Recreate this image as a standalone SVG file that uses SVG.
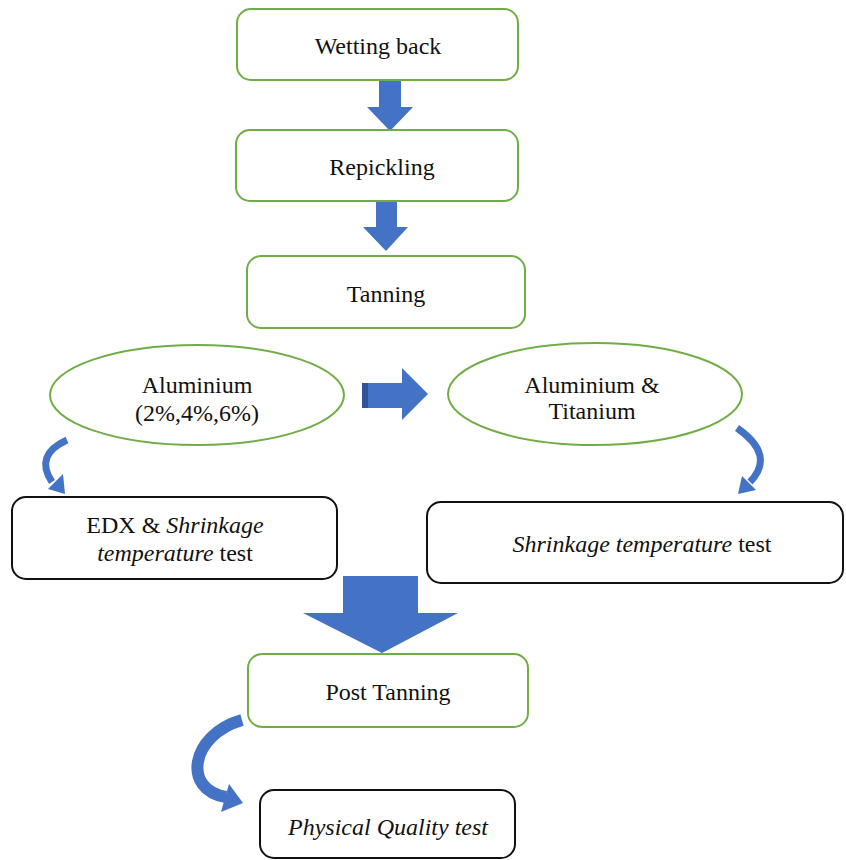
<svg xmlns="http://www.w3.org/2000/svg" width="846" height="860" viewBox="0 0 846 860">
<defs>
<style>
.g{fill:#fff;stroke:#70AD47;stroke-width:2}
.k{fill:#fff;stroke:#111;stroke-width:2}
.t{font-family:'Liberation Serif','Times New Roman','DejaVu Serif',serif;font-size:24px;fill:#111;text-anchor:middle}
.i{font-style:italic}
.a{fill:#4472C4}
.c{fill:none;stroke:#4472C4}
</style>
</defs>
<rect width="846" height="860" fill="#fff"/>
<g id="connectors">
<polygon class="a" points="379,81 401,81 401,107 413,107 390,131 367,107 379,107"/>
<polygon class="a" points="376,202 397,202 397,227 408,227 386,251 363,227 376,227"/>
<polygon class="a" points="362,383 402,383 402,368 428,394 402,420 402,408 362,408"/>
<rect x="362" y="383" width="6" height="25" fill="#2F5597"/>
<polygon class="a" points="343,576 418,576 418,613 458,613 382,653 303,613 343,613"/>
<path class="c" stroke-width="7" d="M67 440 Q34 455 52 482"/>
<polygon class="a" points="48,489 63,474 65,494"/>
<path class="c" stroke-width="7" d="M737 428 Q776 455 750 482"/>
<polygon class="a" points="756,490 742,476 738,494"/>
<path class="c" stroke-width="12" d="M242 720 C190 735 182 790 226 797"/>
<polygon class="a" points="221,812 229,784 243,803"/>
</g>
<g id="wetting"><rect class="g" x="237" y="9" width="281" height="71" rx="14"/><text class="t" x="378" y="54">Wetting back</text></g>
<g id="repickling"><rect class="g" x="236" y="130" width="282" height="71" rx="14"/><text class="t" x="382" y="175">Repickling</text></g>
<g id="tanning"><rect class="g" x="247" y="256" width="278" height="72" rx="14"/><text class="t" x="386" y="302">Tanning</text></g>
<g id="aluminium"><ellipse class="g" cx="197" cy="395" rx="147" ry="50"/><text class="t" x="197" y="393">Aluminium</text><text class="t" x="197" y="421">(2%,4%,6%)</text></g>
<g id="altitanium"><ellipse class="g" cx="595" cy="394" rx="147" ry="51"/><text class="t" x="592" y="393">Aluminium &amp;</text><text class="t" x="592" y="419">Titanium</text></g>
<g id="edx"><rect class="k" x="12" y="497" width="325" height="82" rx="14"/><text class="t" x="175" y="533">EDX &amp; <tspan class="i">Shrinkage</tspan></text><text class="t" x="175" y="561"><tspan class="i">temperature</tspan> test</text></g>
<g id="shrinkage"><rect class="k" x="427" y="502" width="416" height="81" rx="14"/><text class="t" x="642" y="552"><tspan class="i">Shrinkage temperature</tspan> test</text></g>
<g id="posttanning"><rect class="g" x="248" y="654" width="280" height="73" rx="14"/><text class="t" x="388" y="700">Post Tanning</text></g>
<g id="physical"><rect class="k" x="260" y="790" width="255" height="68" rx="14"/><text class="t i" x="388" y="835">Physical Quality test</text></g>
</svg>
